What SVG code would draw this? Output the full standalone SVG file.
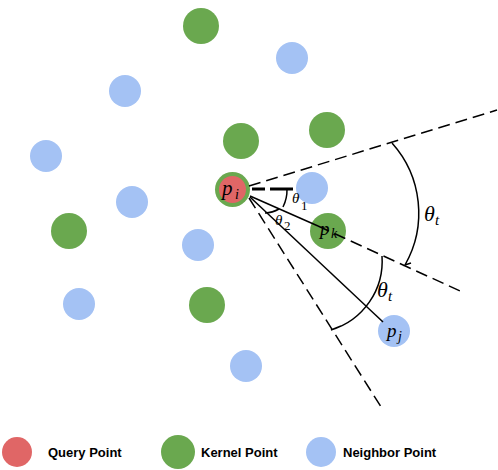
<svg xmlns="http://www.w3.org/2000/svg" width="498" height="470" viewBox="0 0 498 470">
<style>
.q{fill:#E06666}
.k{fill:#6AA84F}
.n{fill:#A4C2F4}
.ln{stroke:#000;fill:none;stroke-width:1.5}
.dash{stroke-dasharray:12 6}
.m{font-family:"Liberation Serif","DejaVu Serif",serif;font-style:italic;fill:#000}
.r{font-family:"Liberation Serif","DejaVu Serif",serif;font-style:normal;fill:#000}
.lg{font-family:"Liberation Sans",Arial,sans-serif;font-weight:bold;font-size:13px;fill:#000}
</style>
<rect width="498" height="470" fill="#fff"/>
<g id="nodes">
<circle id="k1" class="k" cx="201" cy="26" r="18"/>
<circle id="n1" class="n" cx="292" cy="58" r="16"/>
<circle id="n2" class="n" cx="125" cy="91" r="16"/>
<circle id="k2" class="k" cx="241" cy="141" r="18"/>
<circle id="k3" class="k" cx="327" cy="130" r="18"/>
<circle id="n3" class="n" cx="46" cy="156" r="16"/>
<circle id="n4" class="n" cx="132" cy="202" r="16"/>
<circle id="n5" class="n" cx="312" cy="188" r="16"/>
<circle id="pk" class="k" cx="328" cy="231" r="18"/>
<circle id="k5" class="k" cx="69" cy="231" r="18"/>
<circle id="n6" class="n" cx="198" cy="245" r="16"/>
<circle id="n7" class="n" cx="79" cy="304" r="16"/>
<circle id="k6" class="k" cx="207" cy="305" r="18"/>
<circle id="pj" class="n" cx="394" cy="331" r="16"/>
<circle id="n9" class="n" cx="246" cy="366" r="16"/>
<g id="pi">
<circle class="k" cx="232.5" cy="189.5" r="17.5"/>
<circle class="q" cx="232.5" cy="189.5" r="13.5"/>
</g>
</g>
<g id="connectors">
<line class="ln dash" x1="249" y1="186" x2="497" y2="110"/>
<line x1="252" y1="189" x2="293" y2="189" stroke="#000" stroke-width="3" stroke-dasharray="13 5 30"/>
<line class="ln" stroke-width="1" x1="250" y1="196" x2="318" y2="226"/>
<line class="ln dash" x1="318" y1="226" x2="460" y2="291"/>
<line class="ln" x1="250" y1="197" x2="383" y2="322"/>
<line class="ln dash" x1="249" y1="198" x2="383" y2="410"/>
<path class="ln" stroke-width="1" d="M287,189 A38,38 0 0,1 283,207"/>
<path class="ln" stroke-width="1" d="M279,209 A30,30 0 0,1 265,213"/>
<path class="ln" stroke-width="2" d="M392,143 A105,105 0 0,1 405,265 L411,263"/>
<path class="ln" stroke-width="2" d="M382,256 A72,72 0 0,1 331,330 L341,326"/>
</g>
<g id="labels">
<text class="m" x="222" y="195" font-size="21">p</text>
<text class="m" x="235" y="199" font-size="14">i</text>
<text class="m" x="320" y="235" font-size="19">p</text>
<text class="m" x="331" y="238" font-size="14">k</text>
<text class="m" x="387" y="337" font-size="19">p</text>
<text class="m" x="398" y="341" font-size="14">j</text>
<text class="m" x="292" y="203" font-size="15">θ</text>
<text class="r" x="301" y="210" font-size="13">1</text>
<text class="m" x="275" y="225" font-size="15">θ</text>
<text class="r" x="284" y="230" font-size="13">2</text>
<text class="m" x="424" y="221" font-size="22">θ</text>
<text class="m" x="435" y="225" font-size="15">t</text>
<text class="m" x="377" y="297" font-size="22">θ</text>
<text class="m" x="388" y="301" font-size="15">t</text>
</g>
<g id="legend">
<circle class="q" cx="17" cy="452" r="15"/>
<text class="lg" x="48" y="457">Query Point</text>
<circle class="k" cx="178" cy="452" r="17"/>
<text class="lg" x="201" y="457">Kernel Point</text>
<circle class="n" cx="321" cy="452" r="15"/>
<text class="lg" x="343" y="457">Neighbor Point</text>
</g>
</svg>
